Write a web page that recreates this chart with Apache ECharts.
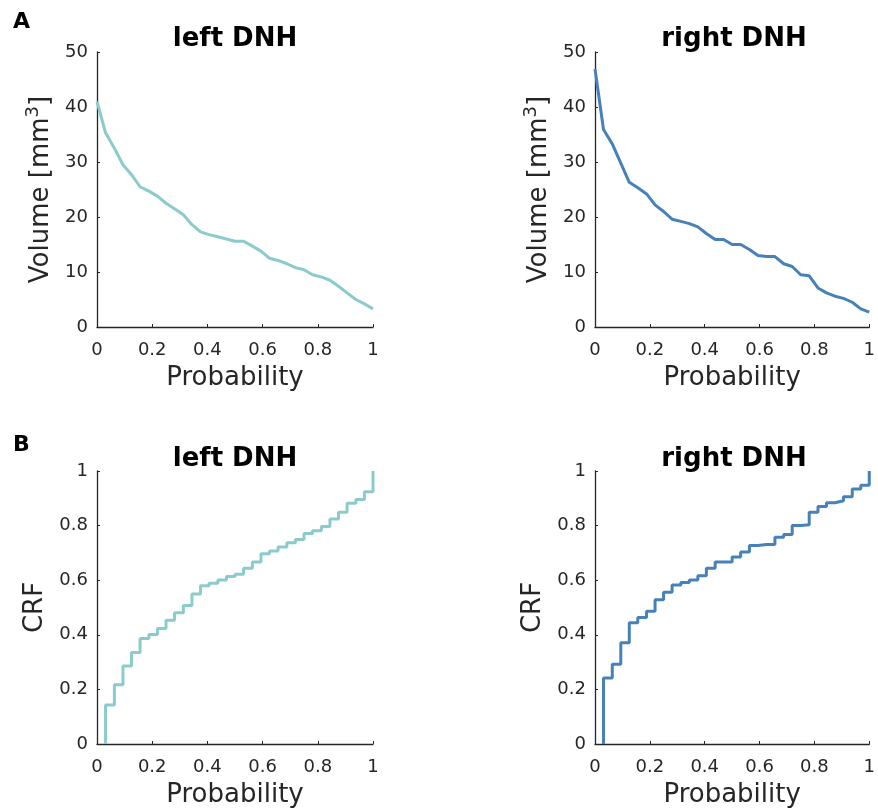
<!DOCTYPE html>
<html>
<head>
<meta charset="utf-8">
<script src="https://cdn.jsdelivr.net/npm/echarts@6/dist/echarts.min.js"></script>
<style>html,body{margin:0;padding:0;background:#fff}#c{width:878px;height:809px}</style>
</head>
<body>
<div id="c"></div>
<script>
// Probability grid (k/32)
var probability = [0, 0.031, 0.063, 0.094, 0.125, 0.156, 0.188, 0.219, 0.25, 0.281, 0.313, 0.344, 0.375, 0.406, 0.438, 0.469, 0.5, 0.531, 0.563, 0.594, 0.625, 0.656, 0.688, 0.719, 0.75, 0.781, 0.813, 0.844, 0.875, 0.906, 0.938, 0.969, 1];
// Panel A: volume vs probability
var volLeft = [41.0, 35.3, 32.5, 29.5, 27.7, 25.5, 24.7, 23.8, 22.5, 21.5, 20.4, 18.6, 17.3, 16.8, 16.4, 16.0, 15.6, 15.6, 14.7, 13.8, 12.5, 12.1, 11.5, 10.8, 10.4, 9.5, 9.1, 8.5, 7.4, 6.2, 5.0, 4.2, 3.3];
var volRight = [46.9, 35.9, 33.3, 29.8, 26.3, 25.3, 24.2, 22.2, 21.0, 19.6, 19.2, 18.8, 18.2, 17.0, 15.9, 15.9, 15.0, 15.0, 14.1, 13.0, 12.8, 12.8, 11.5, 11.0, 9.5, 9.3, 7.1, 6.2, 5.6, 5.2, 4.5, 3.3, 2.7];
// Panel B: CRF (steps at probability[1..32])
var crfLeft = [0.143, 0.217, 0.286, 0.335, 0.386, 0.401, 0.423, 0.453, 0.481, 0.507, 0.549, 0.580, 0.589, 0.601, 0.614, 0.622, 0.644, 0.667, 0.697, 0.707, 0.722, 0.737, 0.749, 0.771, 0.781, 0.797, 0.824, 0.849, 0.882, 0.896, 0.924, 1.0];
var crfRight = [0.2415, 0.292, 0.371, 0.444, 0.463, 0.486, 0.528, 0.556, 0.582, 0.592, 0.601, 0.616, 0.644, 0.667, 0.667, 0.685, 0.703, 0.727, 0.731, 0.731, 0.757, 0.767, 0.800, 0.803, 0.849, 0.870, 0.884, 0.891, 0.906, 0.934, 0.948, 1.0];
var titles = ['left DNH', 'right DNH', 'left DNH', 'right DNH'];
var panelLetters = ['A', 'B'];

var FONT = 'DejaVu Sans';
var INK = '#262626';
var colLeft = '#8CCBCC';
var colRight = '#4682B9';

function pairs(xs, ys) { return ys.map(function (v, i) { return [xs[i], v]; }); }
function crfData(vals) {
  var d = [[probability[1], 0]];
  vals.forEach(function (v, i) { d.push([probability[i + 1], v]); });
  return d;
}

var grids = [
  { left: 97, top: 52, width: 276, height: 275 },
  { left: 595, top: 52, width: 278, height: 275 },
  { left: 97, top: 471, width: 276, height: 276 },
  { left: 595, top: 471, width: 278, height: 276 }
];

function xAx(i) {
  return {
    gridIndex: i, type: 'value', min: 0, max: 1, interval: 0.2,
    name: 'Probability', nameLocation: 'middle', nameGap: 38,
    nameTextStyle: { fontFamily: FONT, fontSize: 26, color: INK },
    axisLine: { show: true, lineStyle: { color: INK, width: 1.3 } },
    axisTick: { show: true, inside: true, length: 3, lineStyle: { color: INK } },
    axisLabel: { fontFamily: FONT, fontSize: 18, color: INK, margin: 14 },
    splitLine: { show: false }
  };
}
function yAx(i, top) {
  var o = {
    gridIndex: i, type: 'value', nameLocation: 'middle',
    axisLine: { show: true, lineStyle: { color: INK, width: 1.3 } },
    axisTick: { show: true, inside: true, length: 3, lineStyle: { color: INK } },
    axisLabel: { fontFamily: FONT, fontSize: 18, color: INK, margin: 9 },
    splitLine: { show: false }
  };
  if (top) {
    o.min = 0; o.max = 50; o.interval = 10;
    o.name = 'Volume [mm{sup|3}]'; o.nameGap = 39;
    o.nameTextStyle = { fontFamily: FONT, fontSize: 26, color: INK,
      rich: { sup: { fontFamily: FONT, fontSize: 18, color: INK, verticalAlign: 'top', padding: [0, 0, 16, 0] } } };
  } else {
    o.min = 0; o.max = 1; o.interval = 0.2;
    o.name = 'CRF'; o.nameGap = 49;
    o.nameTextStyle = { fontFamily: FONT, fontSize: 26, color: INK };
  }
  return o;
}

var centers = [235, 734, 235, 734];
var tops = [26, 26, 446, 446];
var titleArr = titles.map(function (t, i) {
  return { text: t, left: centers[i], top: tops[i], textAlign: 'center', padding: 0,
    textStyle: { fontFamily: FONT, fontSize: 26, fontWeight: 'bold', color: '#000' } };
});
titleArr.push({ text: panelLetters[0], left: 13, top: 11, padding: 0, textStyle: { fontFamily: FONT, fontSize: 22, fontWeight: 'bold', color: '#000' } });
titleArr.push({ text: panelLetters[1], left: 13, top: 434, padding: 0, textStyle: { fontFamily: FONT, fontSize: 22, fontWeight: 'bold', color: '#000' } });

var chart = echarts.init(document.getElementById('c'), null, { renderer: 'canvas' });
chart.setOption({
  animation: false,
  backgroundColor: '#fff',
  title: titleArr,
  grid: grids,
  xAxis: [xAx(0), xAx(1), xAx(2), xAx(3)],
  yAxis: [yAx(0, true), yAx(1, true), yAx(2, false), yAx(3, false)],
  series: [
    { type: 'line', xAxisIndex: 0, yAxisIndex: 0, data: pairs(probability, volLeft), showSymbol: false, lineStyle: { color: colLeft, width: 3 } },
    { type: 'line', xAxisIndex: 1, yAxisIndex: 1, data: pairs(probability, volRight), showSymbol: false, lineStyle: { color: colRight, width: 3 } },
    { type: 'line', xAxisIndex: 2, yAxisIndex: 2, data: crfData(crfLeft), step: 'end', showSymbol: false, lineStyle: { color: colLeft, width: 3 } },
    { type: 'line', xAxisIndex: 3, yAxisIndex: 3, data: crfData(crfRight), step: 'end', showSymbol: false, lineStyle: { color: colRight, width: 3 } }
  ]
});
</script>
</body>
</html>
